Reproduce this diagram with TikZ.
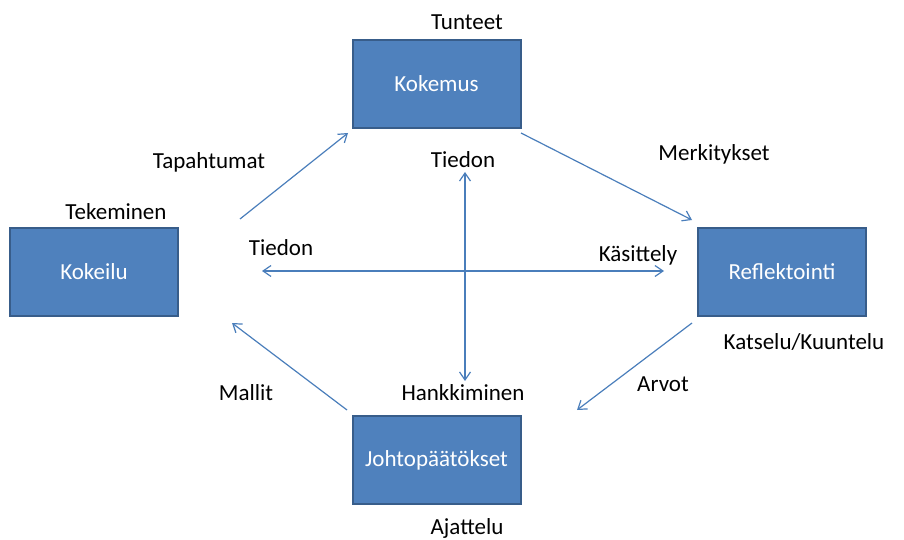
\documentclass[tikz,border=0pt]{standalone}
\usepackage{fontspec}
\setmainfont{Carlito}
\usetikzlibrary{arrows.meta}
\definecolor{boxfill}{HTML}{4F81BD}
\definecolor{boxline}{HTML}{385D8A}
\definecolor{arrowline}{HTML}{4A7EBB}
\begin{document}
\begin{tikzpicture}[x=1pt,y=-1pt,
  font=\fontsize{23}{27}\selectfont,
  main node/.style={rectangle,draw=boxline,fill=boxfill,line width=2pt,text=white,minimum width=168pt,minimum height=88pt},
  conn/.style={draw=arrowline,line width=1.2pt,-{Straight Barb[length=8pt,width=11pt]}},
  both/.style={conn,{Straight Barb[length=8pt,width=11pt]}-{Straight Barb[length=8pt,width=11pt]}}]
  \useasboundingbox (0,0) rectangle (904,540);
  \node[main node] (kokemus) at (436.5,84) {Kokemus};
  \node[main node] (kokeilu) at (94,272) {Kokeilu};
  \node[main node] (reflektointi) at (782,272) {Reflektointi};
  \node[main node] (johtop) at (436.5,460) {Johtopäätökset};

  % labels
  \node (tunteet) at (467,22) {Tunteet};
  \node (tapahtumat) at (209,162) {Tapahtumat};
  \node (tiedon1) at (463,160) {Tiedon};
  \node (merkitykset) at (714,154) {Merkitykset};
  \node (tekeminen) at (116,212) {Tekeminen};
  \node (tiedon2) at (281,248) {Tiedon};
  \node (kasittely) at (638,255) {Käsittely};
  \node (katselu) at (804,342) {Katselu/Kuuntelu};
  \node (mallit) at (246,393) {Mallit};
  \node (hankkiminen) at (463,393) {Hankkiminen};
  \node (arvot) at (663,384) {Arvot};
  \node (ajattelu) at (467,528) {Ajattelu};

  % arrow ends
  \coordinate (a1) at (240,219);
  \coordinate (a2) at (348,133);
  \coordinate (b1) at (521,133);
  \coordinate (b2) at (692,220);
  \coordinate (c1) at (692,323);
  \coordinate (c2) at (577,410);
  \coordinate (d1) at (347,410);
  \coordinate (d2) at (232,323);
  \coordinate (h1) at (262,271);
  \coordinate (h2) at (664,271);
  \coordinate (v1) at (465,172);
  \coordinate (v2) at (465,381);

  \path
   (a1) edge[conn] (a2)
   (b1) edge[conn] (b2)
   (c1) edge[conn] (c2)
   (d1) edge[conn] (d2)
   (h1) edge[both] (h2)
   (v1) edge[both] (v2);
\end{tikzpicture}
\end{document}
